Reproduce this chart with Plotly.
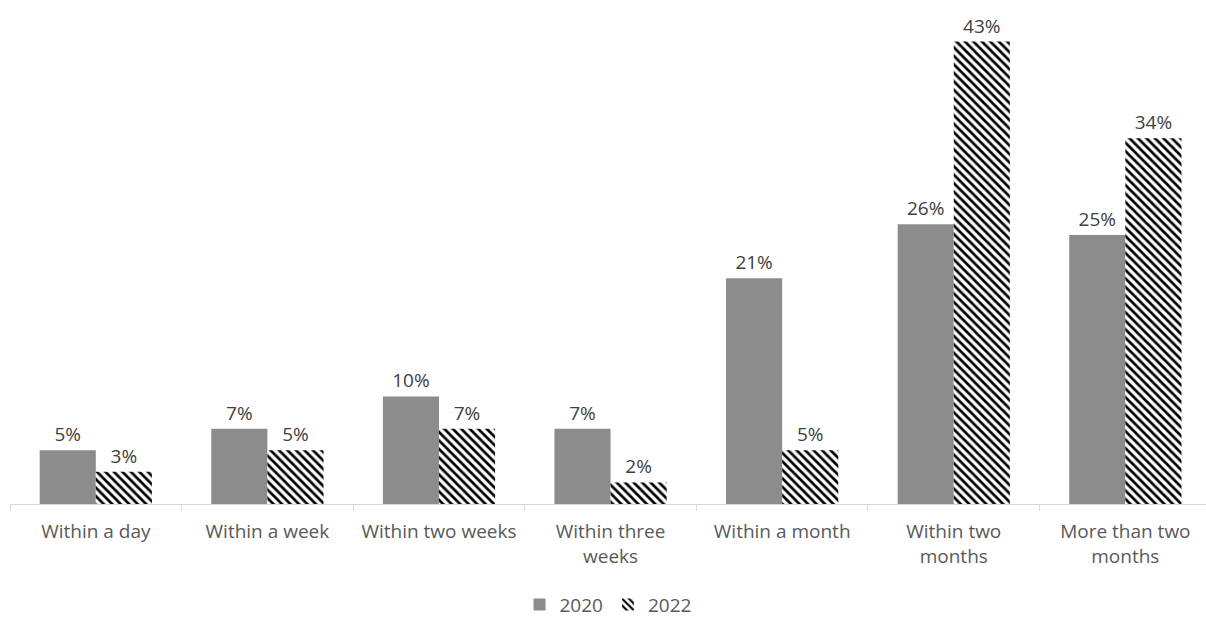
import plotly.graph_objects as go

categories = [
    "Within a day",
    "Within a week",
    "Within two weeks",
    "Within three<br>weeks",
    "Within a month",
    "Within two<br>months",
    "More than two<br>months",
]
values_2020 = [5, 7, 10, 7, 21, 26, 25]
values_2022 = [3, 5, 7, 2, 5, 43, 34]

font_family = "Open Sans, Noto Sans, sans-serif"
label_font = dict(size=19, color="#404040", family=font_family)

fig = go.Figure()
fig.add_trace(go.Bar(
    name="2020",
    x=categories,
    y=values_2020,
    marker=dict(color="#8c8c8c", line=dict(width=0)),
    text=[f"{v}%" for v in values_2020],
    textposition="outside",
    textfont=label_font,
    cliponaxis=False,
))
fig.add_trace(go.Bar(
    name="2022",
    x=categories,
    y=values_2022,
    marker=dict(
        color="white",
        line=dict(width=0),
        pattern=dict(shape="\\", fgcolor="black", bgcolor="white",
                     size=6, solidity=0.45, fillmode="replace"),
    ),
    text=[f"{v}%" for v in values_2022],
    textposition="outside",
    textfont=label_font,
    cliponaxis=False,
))

fig.update_layout(
    width=1206,
    height=624,
    margin=dict(l=10, r=0, t=20, b=118),
    paper_bgcolor="white",
    plot_bgcolor="white",
    barmode="group",
    bargap=0.346,
    bargroupgap=0,
    font=dict(family=font_family, color="#595959", size=19),
    showlegend=True,
    legend=dict(
        orientation="h",
        x=0.5, xanchor="center",
        y=-0.208, yanchor="middle",
        font=dict(size=19, color="#595959"),
        itemwidth=30,
        traceorder="normal",
    ),
    xaxis=dict(
        range=[-0.5, 6.47],
        showline=True,
        linecolor="#d9d9d9",
        linewidth=1,
        ticks="outside",
        tickson="boundaries",
        ticklen=6,
        tickcolor="#d9d9d9",
        ticklabelstandoff=10,
        showgrid=False,
        tickfont=dict(size=19, color="#595959"),
    ),
    yaxis=dict(
        range=[0, 45],
        visible=False,
        showgrid=False,
        zeroline=False,
    ),
)

fig.write_html("out.html")
